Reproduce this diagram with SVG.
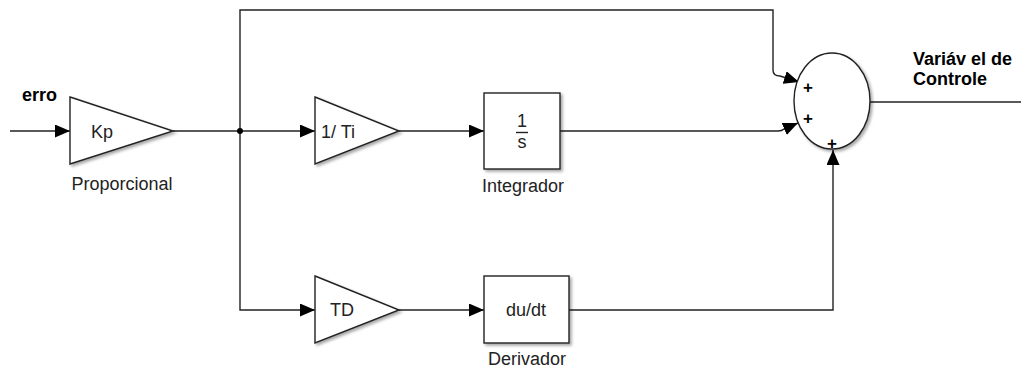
<svg xmlns="http://www.w3.org/2000/svg" width="1021" height="371" viewBox="0 0 1021 371">
  <defs>
    <marker id="arrow" markerUnits="userSpaceOnUse" markerWidth="15" markerHeight="13" refX="15" refY="6.5" orient="auto">
      <path d="M0,0 L15,6.5 L0,13 z" fill="#000"/>
    </marker>
    <filter id="shadow" x="-20%" y="-20%" width="150%" height="150%">
      <feDropShadow dx="2" dy="2" stdDeviation="1.5" flood-color="#000" flood-opacity="0.35"/>
    </filter>
  </defs>
  <style>
    .block { fill: #fff; stroke: #222; stroke-width: 1.4; filter: url(#shadow); }
    .wire { fill: none; stroke: #222; stroke-width: 1.4; }
    .arr { marker-end: url(#arrow); }
    .lbl { font-family: "Liberation Sans", Arial, sans-serif; font-size: 18px; fill: #222; }
    .bold { font-family: "Liberation Sans", Arial, sans-serif; font-size: 18px; font-weight: bold; fill: #000; }
    .sign { font-family: "Liberation Sans", Arial, sans-serif; font-size: 17px; font-weight: bold; fill: #000; text-anchor: middle; }
    .mid { text-anchor: middle; }
  </style>

  <rect width="1021" height="371" fill="#fff"/>

  <!-- connectors -->
  <g id="connectors">
    <path class="wire arr" d="M10,131 H70"/>
    <path class="wire" d="M173,131 H240"/>
    <path class="wire arr" d="M240,131 H315"/>
    <path class="wire arr" d="M240,131 V10 H773 V70 Q773,76 780,76 L799,82"/>
    <path class="wire arr" d="M240,131 V310 H315"/>
    <path class="wire arr" d="M399,131 H484"/>
    <path class="wire arr" d="M560,131 H778 Q782,131 784,129 L798,123"/>
    <path class="wire arr" d="M399,310 H484"/>
    <path class="wire arr" d="M569,310 H833 V150"/>
    <path class="wire" d="M870,102 H1021"/>
    <circle cx="240" cy="131" r="3" fill="#000"/>
  </g>

  <!-- input label -->
  <g id="erro">
    <text class="bold" x="22" y="101">erro</text>
  </g>

  <!-- proportional gain -->
  <g id="kp">
    <polygon class="block" points="70,97 173,131 70,164"/>
    <text class="lbl" x="91" y="138">Kp</text>
    <text class="lbl mid" x="122" y="190">Proporcional</text>
  </g>

  <!-- integral gain -->
  <g id="ti">
    <polygon class="block" points="315,97 399,131 315,164"/>
    <text class="lbl" x="321" y="138">1/ Ti</text>
  </g>

  <!-- integrator -->
  <g id="integrador">
    <rect class="block" x="484" y="93" width="76" height="76"/>
    <text class="lbl mid" x="522" y="127">1</text>
    <line x1="516" y1="132.5" x2="528" y2="132.5" stroke="#222" stroke-width="1.4"/>
    <text class="lbl mid" x="522" y="148">s</text>
    <text class="lbl mid" x="523" y="192">Integrador</text>
  </g>

  <!-- derivative gain -->
  <g id="td">
    <polygon class="block" points="315,276 399,310 315,343"/>
    <text class="lbl" x="330" y="316">TD</text>
  </g>

  <!-- derivator -->
  <g id="derivador">
    <rect class="block" x="484" y="276" width="85" height="67"/>
    <text class="lbl mid" x="526" y="316">du/dt</text>
    <text class="lbl mid" x="527" y="365">Derivador</text>
  </g>

  <!-- sum -->
  <g id="soma">
    <ellipse class="block" cx="832" cy="101" rx="38" ry="48"/>
    <text class="sign" x="808" y="93">+</text>
    <text class="sign" x="808" y="124">+</text>
    <text class="sign" x="832" y="149">+</text>
  </g>

  <!-- output label -->
  <g id="saida">
    <text class="bold" x="913" y="65">Variáv el de</text>
    <text class="bold" x="913" y="85">Controle</text>
  </g>
</svg>
